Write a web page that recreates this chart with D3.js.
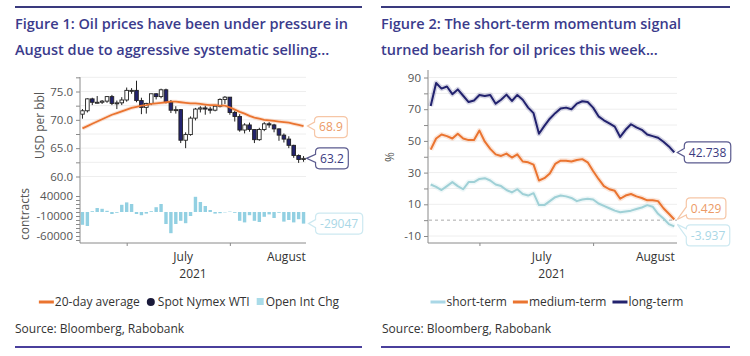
<!DOCTYPE html>
<html><head><meta charset="utf-8">
<script src="https://cdn.jsdelivr.net/npm/d3@7"></script>
<style>
html,body{margin:0;padding:0;background:#fff;}
svg{display:block;font-family:"Open Sans",sans-serif;}
</style></head><body>
<svg id="c" width="750" height="356"></svg>
<script>
// ---------- DATA ----------
const dates = ["2021-06-18","2021-06-21","2021-06-22","2021-06-23","2021-06-24","2021-06-25","2021-06-28","2021-06-29","2021-06-30","2021-07-01","2021-07-02","2021-07-06","2021-07-07","2021-07-08","2021-07-09","2021-07-12","2021-07-13","2021-07-14","2021-07-15","2021-07-16","2021-07-19","2021-07-20","2021-07-21","2021-07-22","2021-07-23","2021-07-26","2021-07-27","2021-07-28","2021-07-29","2021-07-30","2021-08-02","2021-08-03","2021-08-04","2021-08-05","2021-08-06","2021-08-09","2021-08-10","2021-08-11","2021-08-12","2021-08-13","2021-08-16","2021-08-17","2021-08-18","2021-08-19","2021-08-20","2021-08-23"];

const spotOpen  = [71.0,71.6,73.7,73.1,73.1,73.3,74.1,72.9,73.0,73.5,75.2,75.2,73.4,72.2,72.9,74.6,74.1,75.3,73.1,71.7,71.8,66.4,67.4,70.3,71.9,72.1,71.9,71.7,72.4,73.6,74.0,71.3,70.6,68.2,69.1,68.3,66.5,68.3,69.3,69.1,68.4,67.3,66.6,65.5,63.7,63.0];
const spotHigh  = [71.9,73.8,73.9,74.2,73.5,74.2,74.4,73.4,74.0,75.7,75.6,76.9,73.9,73.0,74.6,74.7,75.5,75.5,73.5,72.4,71.9,67.8,70.6,72.1,72.4,72.5,72.3,72.6,73.8,74.2,74.0,71.6,71.0,69.4,69.5,68.3,68.6,69.6,69.6,69.3,68.5,67.6,67.1,65.6,63.9,63.6];
const spotLow   = [70.2,71.3,72.6,72.9,72.8,73.0,72.6,71.9,72.6,73.2,74.6,73.1,71.0,71.1,72.6,73.6,73.8,72.9,71.2,71.1,65.9,65.0,67.2,69.9,71.3,70.9,71.1,71.5,72.2,72.8,70.9,69.7,67.9,67.6,67.9,65.9,66.3,68.0,68.6,67.8,66.3,66.0,65.0,63.3,62.4,62.6];
const spotClose = [71.6,73.7,73.1,73.1,73.3,74.1,72.9,73.0,73.5,75.2,75.2,73.4,72.2,72.9,74.6,74.1,75.3,73.1,71.7,71.8,66.4,67.4,70.3,71.9,72.1,71.9,71.7,72.4,73.6,74.0,71.3,70.6,68.2,69.1,68.3,66.5,68.3,69.3,69.1,68.4,67.3,66.6,65.5,63.7,63.0,63.2];
const avg20 = [68.5,68.9,69.3,69.7,70.1,70.5,70.9,71.2,71.5,71.8,72.1,72.3,72.5,72.6,72.8,72.9,73.0,73.1,73.2,73.2,73.1,73.0,72.9,72.9,72.8,72.7,72.6,72.6,72.5,72.5,72.2,71.8,71.4,71.1,70.7,70.4,70.2,70.0,69.9,69.8,69.7,69.6,69.5,69.3,69.1,68.9];
const openIntChg = [-32000,-35000,2000,10000,8000,3000,-5000,-2000,18000,24000,20000,-5000,-8000,-4000,2000,12000,20000,-30000,-53000,-30000,-22000,-28000,-10000,38000,25000,15000,5000,-4000,-3000,-1000,1000,-2000,-22000,-26000,-8000,-22000,-25000,-12000,-6000,-15000,-2000,-24000,-20000,-26000,-18000,-29047];

const shortTerm  = [22.5,21.0,19.0,21.5,24.0,21.5,19.5,24.0,24.0,26.0,26.5,25.0,22.5,21.5,19.0,17.5,19.5,16.5,15.5,17.0,9.5,9.5,12.0,14.5,15.5,15.0,14.0,12.0,13.0,13.5,13.0,10.5,9.0,7.5,6.0,5.0,5.5,6.0,7.0,8.0,9.5,8.5,4.0,1.0,-2.5,-3.937];
const mediumTerm = [44.5,51.5,54.0,53.0,51.5,54.5,51.5,50.5,50.5,56.5,49.5,45.0,41.5,40.5,42.0,39.5,41.5,37.0,36.5,35.0,25.0,26.5,29.5,35.5,37.5,37.5,37.0,38.0,38.5,36.5,31.0,26.0,21.5,19.5,18.5,13.5,15.5,16.5,15.0,14.0,12.5,12.5,12.0,7.5,4.0,0.429];
const longTerm   = [72.0,86.5,83.0,84.3,79.5,82.5,78.5,74.5,75.5,79.0,78.3,79.0,73.5,76.0,79.2,75.2,79.0,76.0,71.0,67.5,54.5,59.5,64.0,67.5,70.5,71.0,70.0,73.5,75.0,74.5,71.0,65.5,63.0,61.0,59.0,52.5,57.0,60.5,58.5,57.0,54.0,53.0,52.0,49.5,46.5,42.738];

const priceTicks = [60,62.5,65,67.5,70,72.5,75,77.5];
const contractTicks = [-70000,-60000,-50000,-40000,-30000,-20000,-10000,0,10000,20000,30000,40000];
const contractLabels = [40000,-10000,-60000];
const momentumTicks = [-10,0,10,20,30,40,50,60,70,80,90];
const momentumLabels = [-10,10,30,50,70,90];
const monthTicks = ["2021-07-01","2021-08-02"];
const monthLabelAt = ["2021-07-19","2021-08-17"];
const monthLabels = ["July","August"];
const yearLabel = "2021";

const titles1 = ["Figure 1: Oil prices have been under pressure in","August due to aggressive systematic selling..."];
const titles2 = ["Figure 2: The short-term momentum signal","turned bearish for oil prices this week..."];
const legend1 = ["20-day average","Spot Nymex WTI","Open Int Chg"];
const legend2 = ["short-term","medium-term","long-term"];
const sourceText = "Source: Bloomberg, Rabobank";

// ---------- STYLE ----------
const C = {title:"#3b3b8c", rule:"#3a3a7e", axis:"#8a8a8a", tick:"#555", grid:"#eeeeee",
  orange:"#ea7430", navy:"#22226e", teal:"#9fd0d6", oi:"#92d0e2", text:"#333"};

const svg = d3.select("#c");

function rules(x0,x1){
  svg.append("line").attr("x1",x0).attr("x2",x1).attr("y1",7).attr("y2",7).attr("stroke",C.rule).attr("stroke-width",2);
  svg.append("line").attr("x1",x0).attr("x2",x1).attr("y1",347).attr("y2",347).attr("stroke","#4a3f9c").attr("stroke-width",2);
}
function titleBlock(x, lines){
  lines.forEach((t,i)=>svg.append("text").attr("x",x).attr("y",29+i*26).attr("fill",C.title)
    .attr("font-size",14.5).attr("font-weight",600).text(t));
}
function callout(g, tipX, tipY, boxX, boxCY, text, stroke, color){
  const t = g.append("text").attr("x",0).attr("y",boxCY).attr("dy","0.35em").attr("font-size",12)
    .attr("fill",color).attr("text-anchor","middle").text(text);
  const w = t.node().getComputedTextLength()+9, h = 21, r = 4;
  t.attr("x", boxX + w/2);
  const y0 = boxCY - h/2, x = boxX;
  const ny = Math.max(y0+r+4, Math.min(y0+h-r-4, tipY));
  const p = `M${x+r},${y0}H${x+w-r}Q${x+w},${y0} ${x+w},${y0+r}V${y0+h-r}Q${x+w},${y0+h} ${x+w-r},${y0+h}H${x+r}Q${x},${y0+h} ${x},${y0+h-r}V${ny+4}L${tipX},${tipY}L${x},${ny-4}V${y0+r}Q${x},${y0} ${x+r},${y0}Z`;
  g.insert("path",()=>t.node()).attr("d",p).attr("fill","#fff").attr("stroke",stroke).attr("stroke-width",1.2);
}
function legend(cx, y, items){
  const g = svg.append("g");
  let x = 0;
  items.forEach(it=>{
    if(it.type==="line"){ g.append("line").attr("x1",x).attr("x2",x+15).attr("y1",y).attr("y2",y).attr("stroke",it.color).attr("stroke-width",3); x+=16; }
    else if(it.type==="dot"){ g.append("circle").attr("cx",x+5).attr("cy",y).attr("r",4).attr("fill",it.color); x+=12; }
    else { g.append("rect").attr("x",x+1).attr("y",y-4).attr("width",7).attr("height",7).attr("fill",it.color); x+=10; }
    const t = g.append("text").attr("x",x).attr("y",y).attr("dy","0.35em").attr("font-size",12).attr("fill",C.text).text(it.label);
    x += t.node().getComputedTextLength()+6;
  });
  g.attr("transform",`translate(${cx-(x-6)/2},0)`);
}

// ================= LEFT PANEL =================
rules(15,362);
titleBlock(15, titles1);

const x1 = d3.scalePoint().domain(dates).range([80,306]).padding(0.5);
const yP = d3.scaleLinear().domain([60,75]).range([176.5,91.5]);
const yC = d3.scaleLinear().domain([-60000,40000]).range([236,196]);
const L = svg.append("g");

// grid
L.selectAll("line.g").data(priceTicks).join("line").attr("x1",81).attr("x2",306)
  .attr("y1",d=>yP(d)).attr("y2",d=>yP(d)).attr("stroke",C.grid);

// 20-day average
L.append("path").datum(avg20).attr("fill","none").attr("stroke",C.orange).attr("stroke-width",4).attr("stroke-opacity",0.2)
  .attr("d",d3.line().x((d,i)=>x1(dates[i])).y(d=>yP(d)));

// candles
const cw = 3.6;
const cg = L.append("g");
dates.forEach((d,i)=>{
  const x = x1(d), up = spotClose[i] >= spotOpen[i];
  cg.append("line").attr("x1",x).attr("x2",x).attr("y1",yP(spotHigh[i])).attr("y2",yP(spotLow[i])).attr("stroke","#222").attr("stroke-width",1);
  const top = yP(Math.max(spotOpen[i],spotClose[i])), bot = yP(Math.min(spotOpen[i],spotClose[i]));
  cg.append("rect").attr("x",x-cw/2).attr("y",top).attr("width",cw).attr("height",Math.max(1,bot-top))
    .attr("fill",up?"#fff":C.navy).attr("stroke","#222").attr("stroke-width",0.9);
});
L.append("path").datum(avg20).attr("fill","none").attr("stroke",C.orange).attr("stroke-width",1.8)
  .attr("d",d3.line().x((d,i)=>x1(dates[i])).y(d=>yP(d)));

// open interest bars
L.selectAll("rect.oi").data(openIntChg).join("rect").attr("x",(d,i)=>x1(dates[i])-1.7).attr("width",3.4)
  .attr("y",d=>Math.min(yC(d),yC(0))).attr("height",d=>Math.abs(yC(d)-yC(0))).attr("fill",C.oi);

// axes
L.append("line").attr("x1",80).attr("x2",80).attr("y1",77).attr("y2",243).attr("stroke",C.axis);
L.append("line").attr("x1",80).attr("x2",306).attr("y1",243).attr("y2",243).attr("stroke",C.axis);
const ayP = L.append("g").attr("transform","translate(80,0)")
  .call(d3.axisLeft(yP).tickValues(priceTicks).tickSize(4).tickPadding(3).tickFormat(d=>d%5===0?d.toFixed(1):""));
const ayC = L.append("g").attr("transform","translate(80,0)")
  .call(d3.axisLeft(yC).tickValues(contractTicks).tickSize(4).tickPadding(3).tickFormat(d=>contractLabels.includes(d)?String(d):""));
[ayP,ayC].forEach(a=>{a.select(".domain").remove(); a.selectAll("line").attr("stroke",C.axis);
  a.selectAll("text").attr("fill",C.tick).attr("font-size",11.5).attr("font-family","Open Sans");});
const ax1 = L.append("g").attr("transform","translate(0,243)").call(d3.axisBottom(x1).tickValues(monthTicks).tickSize(3).tickFormat(""));
ax1.select(".domain").remove(); ax1.selectAll("line").attr("stroke",C.axis);
monthLabels.forEach((m,i)=>L.append("text").attr("x",x1(monthLabelAt[i])+x1.step()/2).attr("y",261).attr("text-anchor","middle")
  .attr("font-size",12).attr("fill",C.text).text(m));
L.append("text").attr("x",193).attr("y",278).attr("text-anchor","middle").attr("font-size",12).attr("fill",C.text).text(yearLabel);
L.append("text").attr("transform","translate(44,125.5) rotate(-90)").attr("text-anchor","middle").attr("font-size",12).attr("fill",C.tick).text("USD per bbl");
L.append("text").attr("transform","translate(29,214) rotate(-90)").attr("text-anchor","middle").attr("font-size",12).attr("fill",C.tick).text("contracts");

// callouts
const lastX1 = x1(dates[dates.length-1]);
callout(L, lastX1+4, yP(avg20[avg20.length-1]), lastX1+11, yP(avg20[avg20.length-1])+1, String(avg20[avg20.length-1]), "#f6c6a6", "#ec9a66");
callout(L, lastX1+3, yP(spotClose[spotClose.length-1]), lastX1+12, yP(spotClose[spotClose.length-1]), String(spotClose[spotClose.length-1]), "#5a5a8e", "#3a3a80");
callout(L, lastX1+5, yC(openIntChg[openIntChg.length-1]), lastX1+12, yC(openIntChg[openIntChg.length-1]), String(openIntChg[openIntChg.length-1]), "#cde9f1", "#a9d7e6");

legend(189, 302, [{type:"line",color:C.orange,label:legend1[0]},{type:"dot",color:"#1a1a3a",label:legend1[1]},{type:"sq",color:"#a9dbe8",label:legend1[2]}]);
svg.append("text").attr("x",15).attr("y",333).attr("font-size",12).attr("fill",C.text).text(sourceText);

// ================= RIGHT PANEL =================
rules(381,730);
titleBlock(381, titles2);
const x2 = d3.scalePoint().domain(dates).range([428,677]).padding(0.5);
const yM = d3.scaleLinear().domain([-10,90]).range([236,77.5]);
const R = svg.append("g");
R.selectAll("line.g").data(momentumTicks.filter(d=>d!==0)).join("line").attr("x1",429).attr("x2",677)
  .attr("y1",d=>yM(d)).attr("y2",d=>yM(d)).attr("stroke",C.grid);
R.append("line").attr("x1",429).attr("x2",677).attr("y1",yM(0)).attr("y2",yM(0)).attr("stroke","#aaa").attr("stroke-dasharray","3,3");
R.append("line").attr("x1",428).attr("x2",428).attr("y1",70).attr("y2",243).attr("stroke",C.axis);
R.append("line").attr("x1",428).attr("x2",677).attr("y1",243).attr("y2",243).attr("stroke",C.axis);
const ayM = R.append("g").attr("transform","translate(428,0)")
  .call(d3.axisLeft(yM).tickValues(momentumTicks).tickSize(4).tickPadding(3).tickFormat(d=>momentumLabels.includes(d)?String(d):""));
ayM.select(".domain").remove(); ayM.selectAll("line").attr("stroke",C.axis);
ayM.selectAll("text").attr("fill",C.tick).attr("font-size",11.5).attr("font-family","Open Sans");
const ax2 = R.append("g").attr("transform","translate(0,243)").call(d3.axisBottom(x2).tickValues(monthTicks).tickSize(3).tickFormat(""));
ax2.select(".domain").remove(); ax2.selectAll("line").attr("stroke",C.axis);
monthLabels.forEach((m,i)=>R.append("text").attr("x",x2(monthLabelAt[i])+x2.step()/2).attr("y",261).attr("text-anchor","middle")
  .attr("font-size",12).attr("fill",C.text).text(m));
R.append("text").attr("x",552).attr("y",278).attr("text-anchor","middle").attr("font-size",12).attr("fill",C.text).text(yearLabel);
R.append("text").attr("transform","translate(394,157) rotate(-90)").attr("text-anchor","middle").attr("font-size",12).attr("fill",C.tick).text("%");

const series = [{v:shortTerm,c:C.teal},{v:mediumTerm,c:C.orange},{v:longTerm,c:C.navy}];
const ln = d3.line().x((d,i)=>x2(dates[i])).y(d=>yM(d));
series.forEach(s=>{
  R.append("path").datum(s.v).attr("fill","none").attr("stroke",s.c).attr("stroke-width",5).attr("stroke-opacity",0.18).attr("stroke-linejoin","round").attr("d",ln);
  R.append("path").datum(s.v).attr("fill","none").attr("stroke",s.c).attr("stroke-width",2).attr("stroke-linejoin","round").attr("d",ln);
});
const lastX2 = x2(dates[dates.length-1]);
const lastL = longTerm[longTerm.length-1], lastMd = mediumTerm[mediumTerm.length-1], lastS = shortTerm[shortTerm.length-1];
callout(R, lastX2+3, yM(lastL), lastX2+10, yM(lastL), String(lastL), "#5a5a8e", "#3a3a80");
callout(R, lastX2+3, yM(lastMd), lastX2+12, yM(lastMd)-11, String(lastMd), "#f6c6a6", "#ec9a66");
callout(R, lastX2+3, yM(lastS)-2, lastX2+12, yM(lastS)+9, String(lastS), "#cde9f1", "#a9d7e6");

legend(557, 302, [{type:"line",color:"#a9d7e6",label:legend2[0]},{type:"line",color:C.orange,label:legend2[1]},{type:"line",color:C.navy,label:legend2[2]}]);
svg.append("text").attr("x",382).attr("y",333).attr("font-size",12).attr("fill",C.text).text(sourceText);
</script></body></html>
